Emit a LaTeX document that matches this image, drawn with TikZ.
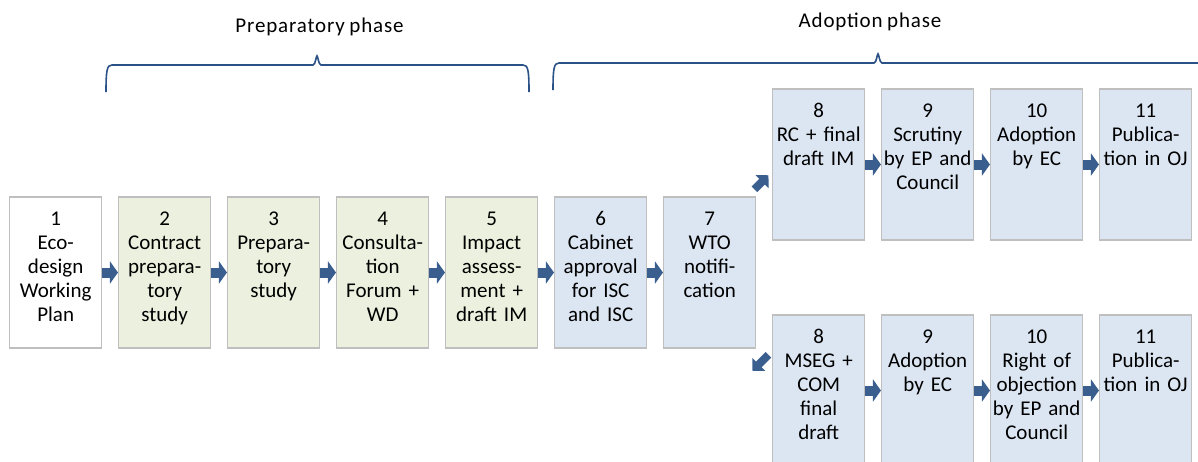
\documentclass[tikz,border=0pt]{standalone}
\usepackage{fontspec}
\setmainfont{Carlito}[WordSpace=0.8]
\usetikzlibrary{arrows.meta}
\definecolor{stageline}{HTML}{BFBFBF}
\definecolor{prepfill}{HTML}{EBF1DE}
\definecolor{adoptfill}{HTML}{DCE6F2}
\definecolor{flowblue}{HTML}{3A5F8F}
\definecolor{bracecol}{HTML}{2B5287}
\newcommand\phasebrace[4]{
  \draw[bracecol, line width=1.6pt] (#1,#4+27) .. controls (#1,#4+5) and (#1+1,#4) .. (#1+6,#4)
    -- (#3-4,#4) .. controls (#3-1.5,#4) and (#3-1,#4-9) .. (#3,#4-9)
    .. controls (#3+1,#4-9) and (#3+1.5,#4) .. (#3+4,#4)
    -- (#2-6,#4) .. controls (#2-1,#4) and (#2,#4+5) .. (#2,#4+27);
}

\begin{document}
\begin{tikzpicture}[x=1pt, y=-1pt,
  stage/.style = {draw=stageline, line width=1.5pt, text width=88pt, align=center,
    inner xsep=2pt, inner ysep=0pt, text height=28pt, text depth=123pt,
    font=\fontsize{21pt}{24.2pt}\selectfont},
  prep/.style = {stage, fill=prepfill},
  adopt/.style = {stage, fill=adoptfill},
  flowarrow/.style = {flowblue, line width=10pt, -{Triangle[length=8pt, width=22pt]}},
  diagarrow/.style = {flowblue, line width=8pt, -{Triangle[length=9pt, width=18pt]}},
  phaselabel/.style = {anchor=base, inner sep=0pt,
    font=\fontsize{21pt}{24pt}\selectfont\addfontfeature{LetterSpace=4}}]
	\useasboundingbox (0,0) rectangle (1198,461);
	% phases
	\node[phaselabel] (preplabel) at (319.5,32) {Preparatory phase};
	\node[phaselabel] (adoptlabel) at (870,27) {Adoption phase};
	\phasebrace{106}{529}{317}{65}
	\phasebrace{553}{1240}{878}{63}
	% main row
	\node[stage, fill=white] (b1) at (55.7,272.5) {1\\Eco-\\design\\Working\\Plan};
	\node[prep] (b2) at (164.7,272.5) {2\\Contract\\prepara-\\tory\\study};
	\node[prep] (b3) at (273.7,272.5) {3\\Prepara-\\tory\\study};
	\node[prep] (b4) at (382.7,272.5) {4\\Consulta-\\tion\\Forum +\\WD};
	\node[prep] (b5) at (491.7,272.5) {5\\Impact\\assess-\\ment +\\draft IM};
	\node[adopt] (b6) at (600.7,272.5) {6\\Cabinet\\approval\\for ISC\\and ISC};
	\node[adopt] (b7) at (709.7,272.5) {7\\WTO\\notifi-\\cation};
	% upper branch
	\node[adopt] (up8) at (818.7,164.5) {8\\RC + final\\draft IM};
	\node[adopt] (up9) at (927.7,164.5) {9\\Scrutiny\\by EP and\\Council};
	\node[adopt] (up10) at (1036.7,164.5) {10\\Adoption\\by EC};
	\node[adopt] (up11) at (1145.7,164.5) {11\\Publica-\\tion in OJ};
	% lower branch
	\node[adopt] (lo8) at (818.7,390.5) {8\\MSEG +\\COM\\final\\draft};
	\node[adopt] (lo9) at (927.7,390.5) {9\\Adoption\\by EC};
	\node[adopt] (lo10) at (1036.7,390.5) {10\\Right of\\objection\\by EP and\\Council};
	\node[adopt] (lo11) at (1145.7,390.5) {11\\Publica-\\tion in OJ};
	% arrows
	\draw[flowarrow] (b1) -- (b2);
	\draw[flowarrow] (b2) -- (b3);
	\draw[flowarrow] (b3) -- (b4);
	\draw[flowarrow] (b4) -- (b5);
	\draw[flowarrow] (b5) -- (b6);
	\draw[flowarrow] (b6) -- (b7);
	\draw[flowarrow] (up8) -- (up9);
	\draw[flowarrow] (up9) -- (up10);
	\draw[flowarrow] (up10) -- (up11);
	\draw[flowarrow] (lo8) -- (lo9);
	\draw[flowarrow] (lo9) -- (lo10);
	\draw[flowarrow] (lo10) -- (lo11);
	\coordinate (uptail) at ([shift={(-2,-7)}]b7.north east);
	\coordinate (uptip) at ([shift={(12,-21)}]b7.north east);
	\draw[diagarrow] (uptail) -- (uptip);
	\coordinate (lotail) at ([shift={(12,6)}]b7.south east);
	\coordinate (lotip) at ([shift={(-4,22)}]b7.south east);
	\draw[diagarrow] (lotail) -- (lotip);
\end{tikzpicture}
\end{document}
